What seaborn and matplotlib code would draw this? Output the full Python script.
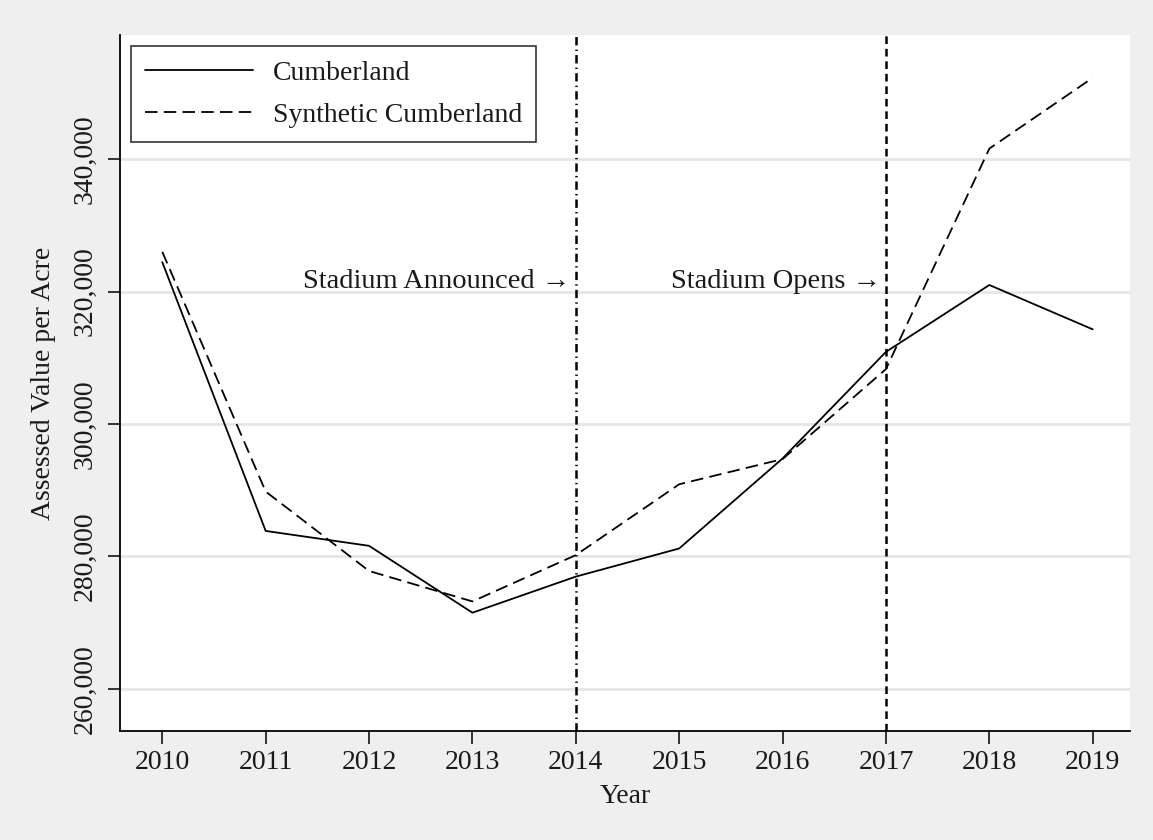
import matplotlib
matplotlib.use("Agg")
import matplotlib.pyplot as plt
import seaborn as sns
import pandas as pd
from matplotlib.lines import Line2D
from matplotlib.ticker import FuncFormatter

# Assessed value per acre, Cumberland vs. its synthetic control
years = [2010, 2011, 2012, 2013, 2014, 2015, 2016, 2017, 2018, 2019]
cumberland = [324450, 283850, 281600, 271500, 276950, 281200, 294800, 310900, 321000, 314300]
synthetic = [326000, 289800, 277800, 273200, 280200, 290900, 294700, 308300, 341600, 352300]
series_names = ["Cumberland", "Synthetic Cumberland"]

events = [2014, 2017]
event_labels = ["Stadium Announced \u2192", "Stadium Opens \u2192"]
y_ticks = [260000, 280000, 300000, 320000, 340000]
x_ticks = years

sns.set_theme(style="white")
plt.rcParams["font.family"] = ["Liberation Serif", "DejaVu Serif"]
plt.rcParams["lines.scale_dashes"] = False

FS = 20
BG = "#efefef"
INK = "#1a1a1a"

fig = plt.figure(figsize=(11.53, 8.40), dpi=100, facecolor=BG)
ax = fig.add_axes([0.104, 0.130, 0.876, 0.828])
ax.set_facecolor("white")

df = pd.DataFrame({
    "Year": years * 2,
    "Value": cumberland + synthetic,
    "Series": [series_names[0]] * len(years) + [series_names[1]] * len(years),
})

sns.lineplot(
    data=df, x="Year", y="Value", style="Series",
    dashes={series_names[0]: "", series_names[1]: (9, 4.5)},
    color="black", linewidth=1.3, ax=ax, legend=False, zorder=3,
)

# horizontal grid
for yt in y_ticks:
    ax.axhline(yt, color="#e6e6e6", linewidth=2.0, zorder=0)

# event markers
ax.axvline(events[0], color="black", linewidth=1.8, linestyle=(0, (6, 3, 1, 3)), zorder=2)
ax.axvline(events[1], color="black", linewidth=1.8, linestyle=(0, (5.5, 3.5)), zorder=2)
text_y = 321600
for ev, lab in zip(events, event_labels):
    ax.text(ev - 0.05, text_y, lab, ha="right", va="center", fontsize=20.5, color=INK, zorder=4)

ax.set_xlim(2009.59, 2019.36)
ax.set_ylim(253660, 358720)
ax.set_xticks(x_ticks)
ax.set_xticklabels([str(x) for x in x_ticks])
ax.set_yticks(y_ticks)
ax.yaxis.set_major_formatter(FuncFormatter(lambda v, p: f"{int(v):,}"))
for lab in ax.get_yticklabels():
    lab.set_rotation(90)
    lab.set_va("center")

ax.tick_params(axis="both", which="major", direction="out", length=9, width=1.1,
               color="black", labelsize=FS, labelcolor=INK, bottom=True, left=True)
ax.tick_params(axis="y", pad=7)
ax.tick_params(axis="x", pad=5)

for side in ["top", "right"]:
    ax.spines[side].set_visible(False)
for side in ["left", "bottom"]:
    ax.spines[side].set_color("black")
    ax.spines[side].set_linewidth(1.3)

ax.set_xlabel("Year", fontsize=FS, color=INK, labelpad=6)
ax.set_ylabel("Assessed Value per Acre", fontsize=FS, color=INK, labelpad=12)

handles = [
    Line2D([], [], color="black", linewidth=1.3),
    Line2D([], [], color="black", linewidth=1.3, linestyle=(0, (9, 4.5))),
]
leg = ax.legend(handles, series_names, loc="upper left", fontsize=FS,
                frameon=True, fancybox=False, handlelength=3.9, handletextpad=0.7,
                labelspacing=0.6, borderaxespad=0.4, borderpad=0.5)
leg.get_frame().set_edgecolor("black")
leg.get_frame().set_linewidth(1.2)
for t in leg.get_texts():
    t.set_color(INK)

fig.savefig("out.png", dpi=100, facecolor=BG)
